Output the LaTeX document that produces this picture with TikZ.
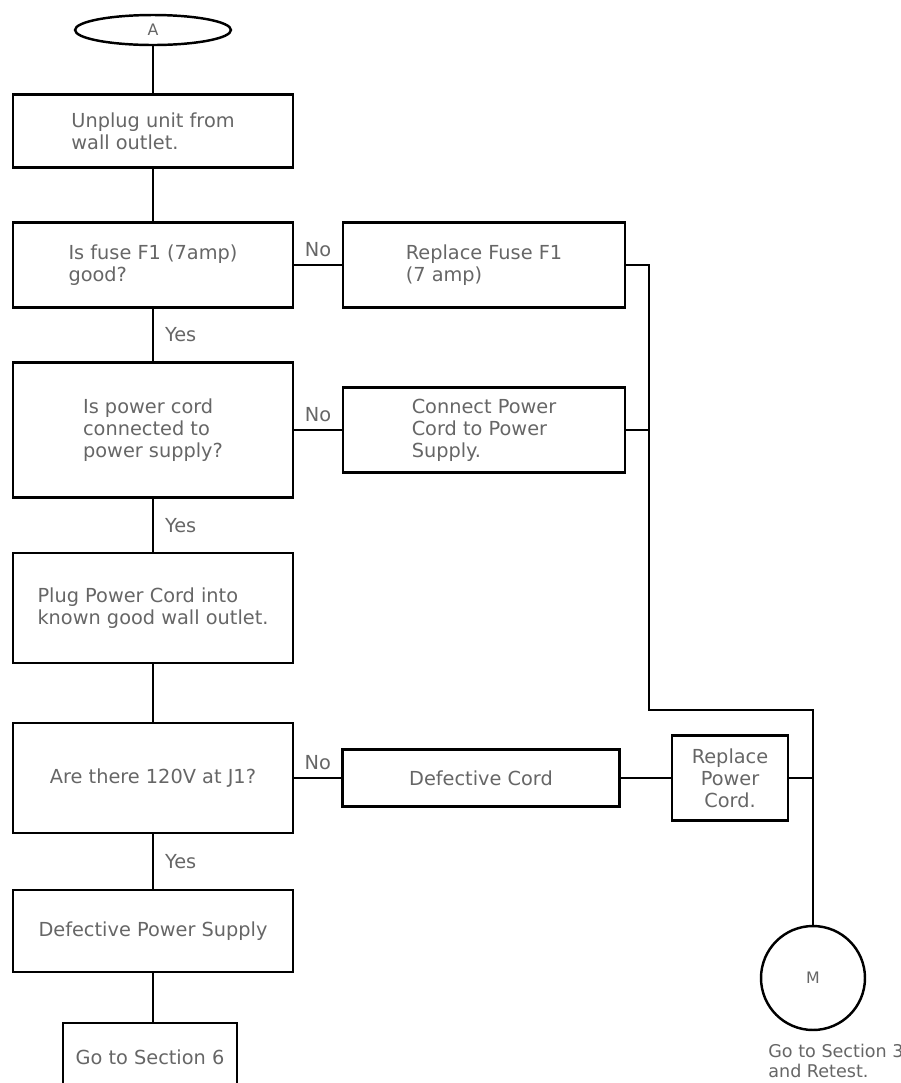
\documentclass[tikz,border=0pt]{standalone}
\usepackage{fontspec}
\setmainfont{DejaVu Sans}
\usetikzlibrary{shapes.geometric}

\begin{document}
\begin{tikzpicture}[x=0.02cm, y=-0.02cm,
    font=\fontsize{11}{12.5}\selectfont,
    box/.style={draw, line width=1.4pt, align=left, text=black!60, inner sep=0pt},
    conn/.style={line width=1pt},
    lbl/.style={text=black!60},
    yeslbl/.style={lbl, midway, right, xshift=3pt},
    nolbl/.style={lbl, midway, above, yshift=1pt}]
  \useasboundingbox (0,0) rectangle (901,1083);

  % 左の列
  \node[draw, ellipse, line width=1.4pt, minimum width=3.12cm, minimum height=0.6cm,
        inner sep=0pt, text=black!60] (A) at (153,30) {\small A};
  \node[box, minimum width=5.6cm, minimum height=1.46cm] (unplug) at (153,131) {Unplug unit from\\wall outlet.};
  \node[box, minimum width=5.6cm, minimum height=1.7cm] (fuseq) at (153,265) {Is fuse F1 (7amp)\\good?};
  \node[box, minimum width=5.6cm, minimum height=2.7cm] (cordq) at (153,430) {Is power cord\\connected to\\power supply?};
  \node[box, minimum width=5.6cm, minimum height=2.2cm] (plug) at (153,608) {Plug Power Cord into\\known good wall outlet.};
  \node[box, minimum width=5.6cm, minimum height=2.2cm] (voltq) at (153,778) {Are there 120V at J1?};
  \node[box, minimum width=5.6cm, minimum height=1.64cm] (defps) at (153,931) {Defective Power Supply};
  \node[box, minimum width=3.48cm, minimum height=1.36cm] (sect6) at (150,1057) {Go to Section 6};

  % 右の列
  \node[box, minimum width=5.64cm, minimum height=1.7cm] (replfuse) at (484,265) {Replace Fuse F1\\(7 amp)};
  \node[box, minimum width=5.64cm, minimum height=1.7cm] (connect) at (484,430) {Connect Power\\Cord to Power\\Supply.};
  \node[box, minimum width=5.54cm, minimum height=1.14cm] (defcord) at (481,778) {Defective Cord};
  \node[box, align=center, minimum width=2.32cm, minimum height=1.7cm] (replcord) at (730,778) {Replace\\Power\\Cord.};
  \node[draw, circle, line width=1.4pt, minimum size=2.08cm, inner sep=0pt, text=black!60] (M) at (813,978) {\small M};
  \node[lbl, anchor=north west, align=left, inner sep=0pt, font=\fontsize{10}{11.5}\selectfont]
       (retest) at (768,1044) {Go to Section 3\\and Retest.};

  \draw[conn] (A) -- (unplug);
  \draw[conn] (unplug) -- (fuseq);
  \draw[conn] (fuseq) -- node[yeslbl] {Yes} (cordq);
  \draw[conn] (cordq) -- node[yeslbl] {Yes} (plug);
  \draw[conn] (plug) -- (voltq);
  \draw[conn] (voltq) -- node[yeslbl] {Yes} (defps);
  \draw[conn] (defps.south) -- (defps.south |- sect6.north);

  \draw[conn] (fuseq) -- node[nolbl] {No} (replfuse);
  \draw[conn] (cordq) -- node[nolbl] {No} (connect);
  \draw[conn] (voltq) -- node[nolbl] {No} (defcord);
  \draw[conn] (defcord) -- (replcord);

  % 右側の線
  \coordinate (bus) at (649,710);
  \coordinate (turn) at (813,710);
  \draw[conn] (replfuse.east) -| (bus) -- (turn) -- (M.north);
  \draw[conn] (connect.east) -- (connect.east -| bus);
  \draw[conn] (replcord.east) -- (replcord.east -| turn);
\end{tikzpicture}
\end{document}
